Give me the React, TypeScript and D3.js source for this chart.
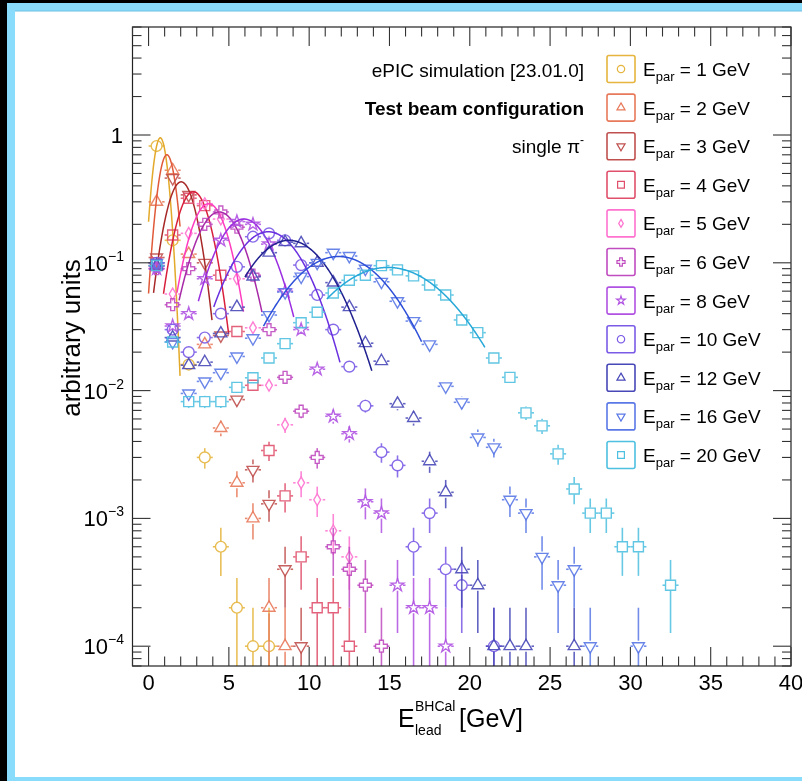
import React from "react";
import * as d3 from "d3";

const FONT = "'Liberation Sans', Arial, Helvetica, sans-serif";
const W = 802;
const H = 781;

// beam energies, colours and ROOT-like marker styles
const energies = [1, 2, 3, 4, 5, 6, 8, 10, 12, 16, 20];
const markerColors = ["#e5b53d", "#e8795a", "#c0504e", "#e0506c", "#ff72d0", "#c04cc0", "#b052e2", "#7a5ae6", "#4848b8", "#5a78e6", "#4ec0e0"];
const fitColors = ["#e3a92a", "#e05a3a", "#a82828", "#d8203c", "#ff3cc0", "#a82aa8", "#9a2ee0", "#6a30e0", "#202090", "#2e50d8", "#26a8d8"];
const markerShapes = ["circle", "triUp", "triDown", "square", "diamond", "cross", "star", "circle", "triUp", "triDown", "square"];

// normalised bin contents, 1 GeV bins, first bin centred at 0.5 GeV (0 = empty bin)
const e1Vals = [0.82, 0.15, 0.016, 0.003, 6e-4, 2e-4, 1e-4, 1e-4];
const e2Vals = [0.3, 0.53, 0.117, 0.023, 5.1e-3, 1.9e-3, 1.0e-3, 2e-4, 1e-4];
const e3Vals = [0.11, 0.46, 0.34, 0.1, 0.027, 8.5e-3, 2.4e-3, 1.3e-3, 4e-4, 1e-4];
const e4Vals = [0.1, 0.165, 0.32, 0.28, 0.08, 0.029, 0.011, 3.4e-3, 1.5e-3, 5e-4, 2e-4, 2e-4, 1e-4];
const e5Vals = [0.095, 0.057, 0.17, 0.29, 0.22, 0.075, 0.031, 0.011, 5.4e-3, 1.9e-3, 1.4e-3, 8e-4, 5e-4];
const e6Vals = [0.09, 0.047, 0.09, 0.2, 0.25, 0.19, 0.08, 0.03, 0.0127, 6.9e-3, 3e-3, 6e-4, 4e-4, 3e-4, 1e-4];
const e8Vals = [0.09, 0.032, 0.04, 0.075, 0.15, 0.21, 0.2, 0.14, 0.06, 0.03, 0.0147, 6.3e-3, 4.6e-3, 1.35e-3, 1.1e-3, 3e-4, 2e-4, 2e-4, 1e-4];
const e10Vals = [0.1, 0.03, 0.02, 0.026, 0.04, 0.093, 0.16, 0.17, 0.15, 0.096, 0.056, 0.03, 0.0154, 7.6e-3, 3.3e-3, 2.6e-3, 6e-4, 1.1e-3, 4e-4, 3e-4, 0, 1e-4];
const e12Vals = [0.095, 0.026, 0.0158, 0.0167, 0.028, 0.045, 0.078, 0.12, 0.145, 0.142, 0.1, 0.07, 0.045, 0.0235, 0.017, 7.9e-3, 6.1e-3, 2.8e-3, 1.6e-3, 4e-4, 3e-4, 1e-4, 1e-4, 1e-4, 0, 0, 1e-4];
const e16Vals = [0.1, 0.024, 9.5e-3, 0.0118, 0.0138, 0.0185, 0.0257, 0.039, 0.059, 0.078, 0.1, 0.12, 0.113, 0.09, 0.071, 0.05, 0.035, 0.023, 0.0108, 8.1e-3, 4.3e-3, 3.6e-3, 1.4e-3, 1.1e-3, 5e-4, 3e-4, 4e-4, 1e-4, 0, 0, 1e-4];
const e20Vals = [0.095, 0.024, 8.2e-3, 8.2e-3, 8.2e-3, 0.0106, 0.0126, 0.018, 0.0233, 0.034, 0.041, 0.058, 0.073, 0.08, 0.095, 0.088, 0.079, 0.067, 0.056, 0.0357, 0.0284, 0.018, 0.0127, 6.7e-3, 5.3e-3, 3.2e-3, 1.7e-3, 1.1e-3, 1.1e-3, 6e-4, 6e-4, 0, 3e-4];
const seriesVals = [e1Vals, e2Vals, e3Vals, e4Vals, e5Vals, e6Vals, e8Vals, e10Vals, e12Vals, e16Vals, e20Vals];
const nEvents = 10000;

// gaussian fit results (amplitude, mean, sigma, fit range)
const fitAmp = [0.95, 0.7, 0.43, 0.36, 0.29, 0.25, 0.22, 0.175, 0.15, 0.112, 0.092];
const fitMean = [0.73, 1.14, 2.03, 2.79, 3.74, 4.4, 5.94, 7.45, 8.74, 11.83, 14.9];
const fitSigma = [0.42, 0.51, 0.86, 0.97, 1.1, 1.4, 1.65, 2.06, 2.38, 2.95, 3.56];
const fitMin = [0.0, 0.0, 0.31, 0.93, 1.77, 1.9, 3.1, 4.06, 6.0, 7.16, 11.1];
const fitMax = [1.97, 1.97, 3.96, 4.99, 5.92, 7.06, 9.04, 11.93, 13.9, 17.0, 20.95];

// axis ticks
const xTicks = [0, 5, 10, 15, 20, 25, 30, 35, 40];
const yDecades = [1e-4, 1e-3, 1e-2, 1e-1, 1];
const yDecadeExp = ["−4", "−3", "−2", "−1", ""];

const infoLines = ["ePIC simulation [23.01.0]", "Test beam configuration", "single π"];

const frame = { left: 132.5, right: 791, top: 27, bottom: 666 };

const symbolPath = (shape: string, k = 1): string => {
  const s = k * k;
  switch (shape) {
    case "circle":
      return d3.symbol(d3.symbolCircle, 92 * s)()!;
    case "square":
      return d3.symbol(d3.symbolSquare, 100 * s)()!;
    case "triUp":
    case "triDown":
      return d3.symbol(d3.symbolTriangle, 62 * s)()!;
    case "diamond":
      return d3.symbol(d3.symbolDiamond, 40 * s)()!;
    case "cross":
      return d3.symbol(d3.symbolCross, 78 * s)()!;
    default:
      return d3.symbol(d3.symbolStar, 50 * s)()!;
  }
};

const Marker = ({ shape, x, y, color, k = 1, sw = 1.4 }: any) => (
  <path
    d={symbolPath(shape, k)}
    transform={`translate(${x},${y})${shape === "triDown" ? " rotate(180)" : ""}`}
    fill="none"
    stroke={color}
    strokeWidth={sw}
  />
);

export default function App() {
  const x = d3.scaleLinear().domain([-1, 40]).range([frame.left, frame.right]);
  const y = d3.scaleLog().domain([7e-5, 7]).range([frame.bottom, frame.top]);
  const yLow = (v: number) => (v <= 7e-5 ? frame.bottom : y(v));

  const minorX = d3.range(-1, 41);
  const minorY: number[] = [];
  for (let d = -5; d <= 0; d++) {
    for (let k = 1; k <= 9; k++) {
      const v = k * Math.pow(10, d);
      if (v >= 7e-5 && v <= 7) minorY.push(v);
    }
  }

  const line = d3.line<[number, number]>().x((d) => x(d[0])).y((d) => y(d[1]));
  const gap = 5.5;
  const halfBin = (x(1) - x(0)) / 2;
  const legendY = (i: number) => 69 + i * 38.6;

  return (
    <div style={{ position: "absolute", left: 0, top: 0 }}>
      <svg width={W} height={H} style={{ display: "block", fontFamily: FONT }}>
        <rect x={0} y={0} width={W} height={H} fill="#000" />
        <rect x={7} y={3} width={W - 7} height={H - 3} fill="#8adcfc" />
        <rect x={15} y={11} width={W - 15} height={766} fill="#fff" />
        <line x1={15} x2={W} y1={11} y2={11} stroke="#6cc0e4" strokeWidth={1} />

        <defs>
          <clipPath id="plotArea">
            <rect x={frame.left} y={frame.top} width={frame.right - frame.left} height={frame.bottom - frame.top} />
          </clipPath>
        </defs>

        <g clipPath="url(#plotArea)">
          {seriesVals.map((vals, si) => {
            const col = markerColors[si];
            const pts = vals
              .map((v, i) => ({ v, b: i + 0.5 }))
              .filter((p) => p.v > 0);
            const curve = d3
              .range(fitMin[si], fitMax[si] + 1e-9, 0.02)
              .map((t) => [t, fitAmp[si] * Math.exp(-((t - fitMean[si]) ** 2) / (2 * fitSigma[si] ** 2))] as [number, number]);
            return (
              <g key={energies[si]}>
                <g stroke={col} strokeWidth={1.6} opacity={0.85}>
                  {pts.map((p) => {
                    const cx = x(p.b);
                    const cy = y(p.v);
                    const err = Math.sqrt(p.v * nEvents) / nEvents;
                    const yHi = y(p.v + err);
                    const yLo = yLow(p.v - err);
                    return (
                      <g key={p.b}>
                        <line x1={cx - halfBin} x2={cx - gap} y1={cy} y2={cy} />
                        <line x1={cx + gap} x2={cx + halfBin} y1={cy} y2={cy} />
                        {yHi < cy - gap && <line x1={cx} x2={cx} y1={cy - gap} y2={yHi} />}
                        {yLo > cy + gap && <line x1={cx} x2={cx} y1={cy + gap} y2={yLo} />}
                      </g>
                    );
                  })}
                </g>
                <g opacity={0.9}>
                  {pts.map((p) => (
                    <Marker key={p.b} shape={markerShapes[si]} x={x(p.b)} y={y(p.v)} color={col} />
                  ))}
                </g>
                <path d={line(curve)!} fill="none" stroke={fitColors[si]} strokeWidth={1.5} />
              </g>
            );
          })}
        </g>

        {/* frame and ticks */}
        <rect x={frame.left} y={frame.top} width={frame.right - frame.left} height={frame.bottom - frame.top} fill="none" stroke="#222" strokeWidth={1.2} />
        <g stroke="#333" strokeWidth={1.1}>
          {minorX.map((t) => {
            const len = t % 5 === 0 ? 19 : 9.5;
            return (
              <g key={t}>
                <line x1={x(t)} x2={x(t)} y1={frame.bottom} y2={frame.bottom - len} />
                <line x1={x(t)} x2={x(t)} y1={frame.top} y2={frame.top + len} />
              </g>
            );
          })}
          {minorY.map((v) => {
            const major = yDecades.some((d) => Math.abs(d - v) / d < 1e-6);
            const len = major ? 18 : 9;
            return (
              <g key={v}>
                <line x1={frame.left} x2={frame.left + len} y1={y(v)} y2={y(v)} />
                <line x1={frame.right} x2={frame.right - len} y1={y(v)} y2={y(v)} />
              </g>
            );
          })}
        </g>

        {/* tick labels */}
        <g fontSize={22} fill="#000" textAnchor="middle">
          {xTicks.map((t) => (
            <text key={t} x={x(t)} y={690}>
              {t}
            </text>
          ))}
        </g>
        <g fontSize={22} fill="#000" textAnchor="end">
          {yDecades.map((d, i) => (
            <text key={d} x={yDecadeExp[i] ? 124 : 123} y={y(d) + 8}>
              {yDecadeExp[i] ? "10" : "1"}
              {yDecadeExp[i] && (
                <tspan dy={-10} fontSize={14}>
                  {yDecadeExp[i]}
                </tspan>
              )}
            </text>
          ))}
        </g>

        {/* axis titles */}
        <text transform="translate(80,338) rotate(-90)" textAnchor="middle" fontSize={26}>
          arbitrary units
        </text>
        <g fontSize={25}>
          <text x={398} y={727}>E</text>
          <text x={415} y={711} fontSize={14}>BHCal</text>
          <text x={415} y={735} fontSize={14}>lead</text>
          <text x={459} y={727}>[GeV]</text>
        </g>

        {/* info text */}
        <g fontSize={19} textAnchor="end">
          <text x={584} y={legendY(0) + 8}>{infoLines[0]}</text>
          <text x={584} y={legendY(1) + 7}>
            <tspan fontWeight="bold">{infoLines[1]}</tspan>
          </text>
          <text x={584} y={legendY(2) + 7}>
            {infoLines[2]}
            <tspan dy={-9} fontSize={12}>-</tspan>
          </text>
        </g>

        {/* legend */}
        {energies.map((e, i) => {
          const yc = legendY(i);
          return (
            <g key={e}>
              <rect x={607} y={yc - 13.5} width={28} height={27} rx={2} fill="#fff" stroke={markerColors[i]} strokeWidth={1.6} />
              <Marker shape={markerShapes[i]} x={621} y={yc} color={markerColors[i]} k={0.68} sw={1.2} />
              <text x={643} y={yc + 7} fontSize={19}>
                E
                <tspan dy={5} fontSize={13}>par</tspan>
                <tspan dy={-5}>{` = ${e} GeV`}</tspan>
              </text>
            </g>
          );
        })}
      </svg>
    </div>
  );
}
